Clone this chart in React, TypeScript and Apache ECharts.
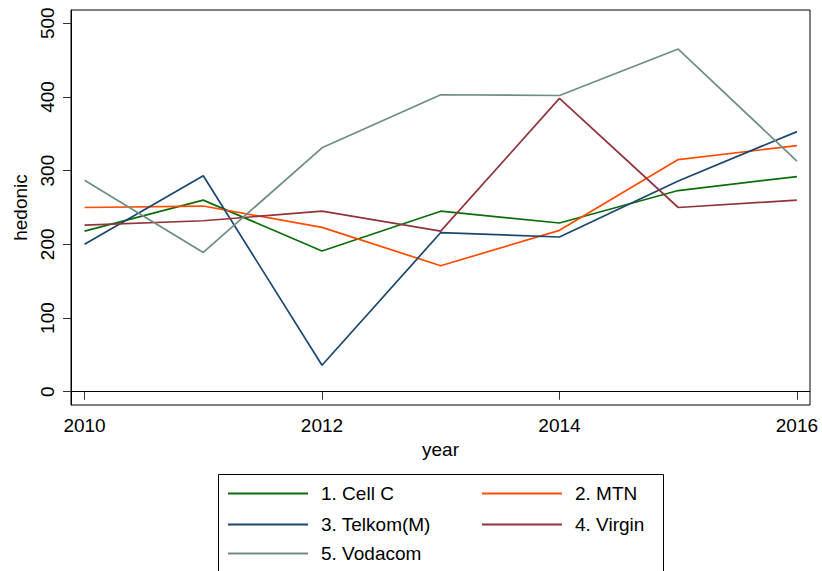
import React, { useEffect, useRef } from "react";
import * as echarts from "echarts";

const years = [2010, 2011, 2012, 2013, 2014, 2015, 2016];
const cellC = [218, 260, 191, 245, 229, 273, 292];
const mtn = [250, 252, 223, 171, 219, 315, 334];
const telkom = [200, 293, 36, 216, 210, 286, 353];
const virgin = [226, 232, 245, 218, 398, 250, 260];
const vodacom = [287, 189, 331, 403, 402, 465, 313];

const seriesNames = ["1. Cell C", "2. MTN", "3. Telkom(M)", "4. Virgin", "5. Vodacom"];
const seriesValues = [cellC, mtn, telkom, virgin, vodacom];
const seriesColors = ["#0b6e0b", "#ff4c00", "#1a476f", "#90353b", "#6e8e84"];

const xTicks = [2010, 2012, 2014, 2016];
const yTicks = [0, 100, 200, 300, 400, 500];

const FONT = "Liberation Sans, Arial, Helvetica, sans-serif";

export default function App() {
  const ref = useRef<HTMLDivElement>(null);
  useEffect(() => {
    if (!ref.current) return;
    const chart = echarts.init(ref.current, null, { renderer: "svg" });
    const legendPos = [
      { left: 228, top: 484 },
      { left: 482, top: 484 },
      { left: 228, top: 515 },
      { left: 482, top: 515 },
      { left: 228, top: 544 },
    ];
    chart.setOption({
      animation: false,
      backgroundColor: "#ffffff",
      textStyle: { fontFamily: FONT },
      grid: {
        left: 71,
        right: 12,
        top: 10,
        bottom: 166,
        show: true,
        borderColor: "#000",
        borderWidth: 1,
        backgroundColor: "transparent",
      },
      xAxis: {
        type: "value",
        min: 2009.886,
        max: 2016.11,
        name: "year",
        nameLocation: "middle",
        nameGap: 35,
        nameTextStyle: { fontSize: 19, color: "#000", fontFamily: FONT },
        axisLine: { show: true, lineStyle: { color: "#000", width: 1 } },
        axisTick: { show: true, length: 8, lineStyle: { color: "#333" }, customValues: xTicks },
        axisLabel: {
          fontSize: 19,
          color: "#000",
          margin: 11,
          fontFamily: FONT,
          customValues: xTicks,
          formatter: (v: number) => String(v),
        },
        splitLine: { show: false },
      },
      yAxis: {
        type: "value",
        min: -18,
        max: 518,
        name: "hedonic",
        nameLocation: "middle",
        nameGap: 36,
        nameTextStyle: { fontSize: 19, color: "#000", fontFamily: FONT },
        axisLine: { show: true, lineStyle: { color: "#000", width: 1 } },
        axisTick: { show: true, length: 8, lineStyle: { color: "#333" }, customValues: yTicks },
        axisLabel: {
          fontSize: 19,
          color: "#000",
          rotate: 90,
          margin: 14,
          fontFamily: FONT,
          customValues: yTicks,
        },
        splitLine: { show: false },
      },
      legend: seriesNames.map((n, i) => ({
        data: [n],
        left: legendPos[i].left,
        top: legendPos[i].top,
        icon: "rect",
        itemWidth: 80,
        itemHeight: 2,
        padding: 0,
        textStyle: { fontSize: 19, color: "#000", fontFamily: FONT, padding: [0, 0, 0, 8] },
        selectedMode: false,
      })),
      graphic: [
        {
          type: "rect",
          shape: { x: 218.5, y: 474.5, width: 445, height: 120 },
          style: { fill: "none", stroke: "#000", lineWidth: 1 },
          silent: true,
        },
      ],
      series: seriesNames.map((n, i) => ({
        name: n,
        type: "line",
        data: years.map((y, j) => [y, seriesValues[i][j]]),
        showSymbol: false,
        symbol: "none",
        color: seriesColors[i],
        lineStyle: { color: seriesColors[i], width: 1.7 },
        itemStyle: { color: seriesColors[i] },
      })),
    });
    return () => chart.dispose();
  }, []);
  return <div ref={ref} style={{ width: 822, height: 571, position: "absolute", left: 0, top: 0 }} />;
}
